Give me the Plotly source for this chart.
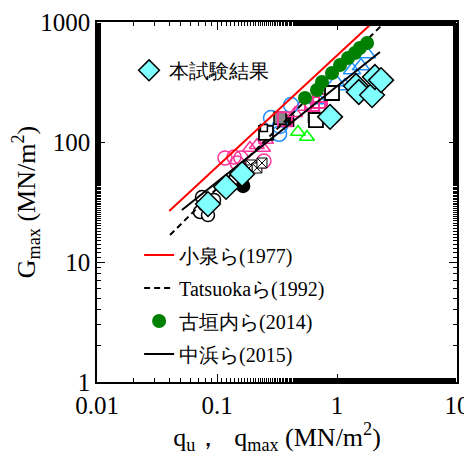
import plotly.graph_objects as go

# ---- data ----
# 本試験結果 (cyan diamonds)
test_q = [0.0841, 0.119, 0.162, 0.875, 1.44, 1.52, 1.96, 2.07, 2.33]
test_g = [30.4, 42.2, 54.1, 162, 293, 261, 246, 348, 328]

# 古垣内ら(2014) (green dots)
furu_q = [0.541, 0.681, 0.75, 0.909, 1.06, 1.235, 1.41, 1.55, 1.78]
furu_g = [233, 271, 316, 376, 438, 501, 552, 607, 668]

# correlation lines
koizumi_q = [0.04, 2.0]
koizumi_g = [26.6, 1000]
tatsuoka_q = [0.0406, 2.37]
tatsuoka_g = [16.8, 944]
nakahama_q = [0.051, 2.28]
nakahama_g = [27.1, 562]

# other literature data (not in legend)
pinkc_q = [0.1166, 0.1386, 0.158, 0.246, 0.147]
pinkc_g = [73.6, 75.0, 73.6, 69.5, 66.8]
bluec_q = [0.282, 0.335, 0.329, 0.414]
bluec_g = [158.5, 136, 117, 203]
bluet_q = [0.695, 0.981, 1.166, 1.334, 1.585, 1.778]
bluet_g = [224, 316, 293, 398, 430, 541]
pinks_q = [0.368, 0.619, 0.722, 0.695]
pinks_g = [155, 207, 220, 188]
pinkt_q = [0.188, 0.215, 0.242, 0.256, 0.447, 0.501]
pinkt_g = [89, 94, 89, 104, 174, 196]
blkf_q = [0.391, 0.643]
blkf_g = [150, 162]
gray_q = [0.335]
gray_g = [158]
blko_q = [0.256, 0.668, 0.909]
blko_g = [119, 152, 256]
small_q = [0.246]
small_g = [131]
greent_q = [0.473, 0.562]
greent_g = [121, 110]
hatch_q = [0.192, 0.215, 0.237, 0.178]
hatch_g = [64.3, 60.7, 66.8, 58.5]
wcirc_q = [0.075, 0.0722, 0.0944, 0.0841, 0.0794]
wcirc_g = [34.8, 26.1, 32.9, 24.6, 29.9]
bdot_q = [0.165]
bdot_g = [43]

PINK = "#FF3399"
BLUE = "#1E90FF"
FONT = "Liberation Serif"

fig = go.Figure()

def others(x, y, symbol, color, size, fill=None, lw=1.5):
    m = dict(symbol=symbol, size=size, color=fill if fill else color,
             line=dict(color=color, width=lw))
    fig.add_trace(go.Scatter(x=x, y=y, mode="markers", marker=m, showlegend=False,
                             hoverinfo="skip"))

others(blkf_q, blkf_g, "square", "black", 11, fill="black")
others(bluet_q, bluet_g, "triangle-up-open", BLUE, 15)
others(pinkc_q, pinkc_g, "circle-open", PINK, 14)
others(pinkt_q, pinkt_g, "triangle-up-open", PINK, 13)
others(bluec_q, bluec_g, "circle-open", BLUE, 15)
others(gray_q, gray_g, "square", "black", 12, fill="#888888")
others(pinks_q, pinks_g, "square-open", PINK, 14, lw=2)
others(blko_q, blko_g, "square", "black", 14, fill="white", lw=1.8)
others(small_q, small_g, "square", "black", 7, fill="white", lw=1.5)
others(greent_q, greent_g, "triangle-up-open", "#00FF00", 13)
others(hatch_q, hatch_g, "square-x", "black", 10, fill="white", lw=1)
others(wcirc_q, wcirc_g, "circle", "black", 13, fill="white", lw=1.5)
others(bdot_q, bdot_g, "circle", "black", 13, fill="black")

fig.add_trace(go.Scatter(x=koizumi_q, y=koizumi_g, mode="lines", name="小泉ら(1977)",
                         line=dict(color="red", width=2), legendrank=1, legendgroup="a"))
fig.add_trace(go.Scatter(x=tatsuoka_q, y=tatsuoka_g, mode="lines", name="Tatsuokaら(1992)",
                         line=dict(color="black", width=2, dash="6px,4px"), legendrank=2,
                         legendgroup="b"))
fig.add_trace(go.Scatter(x=nakahama_q, y=nakahama_g, mode="lines", name="中浜ら(2015)",
                         line=dict(color="black", width=2), legendrank=4, legendgroup="d"))
fig.add_trace(go.Scatter(x=furu_q, y=furu_g, mode="markers", name="古垣内ら(2014)",
                         marker=dict(symbol="circle", size=14, color="#008000"),
                         legendrank=3, legendgroup="c"))
fig.add_trace(go.Scatter(x=test_q, y=test_g, mode="markers", name="本試験結果",
                         marker=dict(symbol="diamond", size=19, color="#80FFFF",
                                     line=dict(color="black", width=1.5)),
                         legend="legend2"))

axis_common = dict(type="log", showgrid=False, zeroline=False, showline=True,
                   linecolor="black", linewidth=1.5, mirror="ticks", ticks="inside",
                   ticklen=8, tickwidth=1.2, tickcolor="black", automargin=False,
                   tickfont=dict(family=FONT, size=25, color="black"),
                   minor=dict(ticks="inside", ticklen=4, tickwidth=1, tickcolor="black"))

fig.update_xaxes(range=[-2, 1], tickvals=[0.01, 0.1, 1, 10],
                 ticktext=["0.01", "0.1", "1", "10"],
                 title=dict(text="q<sub>u</sub>，  q<sub>max</sub> (MN/m<sup>2</sup>)",
                            font=dict(family=FONT, size=26, color="black"), standoff=6),
                 **axis_common)
fig.update_yaxes(range=[0, 3], tickvals=[1, 10, 100, 1000],
                 ticktext=["1", "10", "100", "1000"],
                 title=dict(text="G<sub>max</sub> (MN/m<sup>2</sup>)",
                            font=dict(family=FONT, size=26, color="black"), standoff=6),
                 **axis_common)

# page body has an 8px default margin, so the figure is sized to fit the window
fig.update_layout(
    width=464, height=449,
    margin=dict(l=89, r=15, t=14, b=75),
    paper_bgcolor="white", plot_bgcolor="white",
    font=dict(family=FONT, color="black"),
    legend=dict(x=0.117, xanchor="left", y=0.407, yanchor="top",
                bgcolor="rgba(0,0,0,0)", font=dict(family=FONT, size=20, color="black"),
                traceorder="grouped", tracegroupgap=4, itemwidth=30),
    legend2=dict(x=0.089, xanchor="left", y=0.92, yanchor="top",
                 bgcolor="rgba(0,0,0,0)", font=dict(family=FONT, size=20, color="black")),
)

fig.write_html("out.html")
